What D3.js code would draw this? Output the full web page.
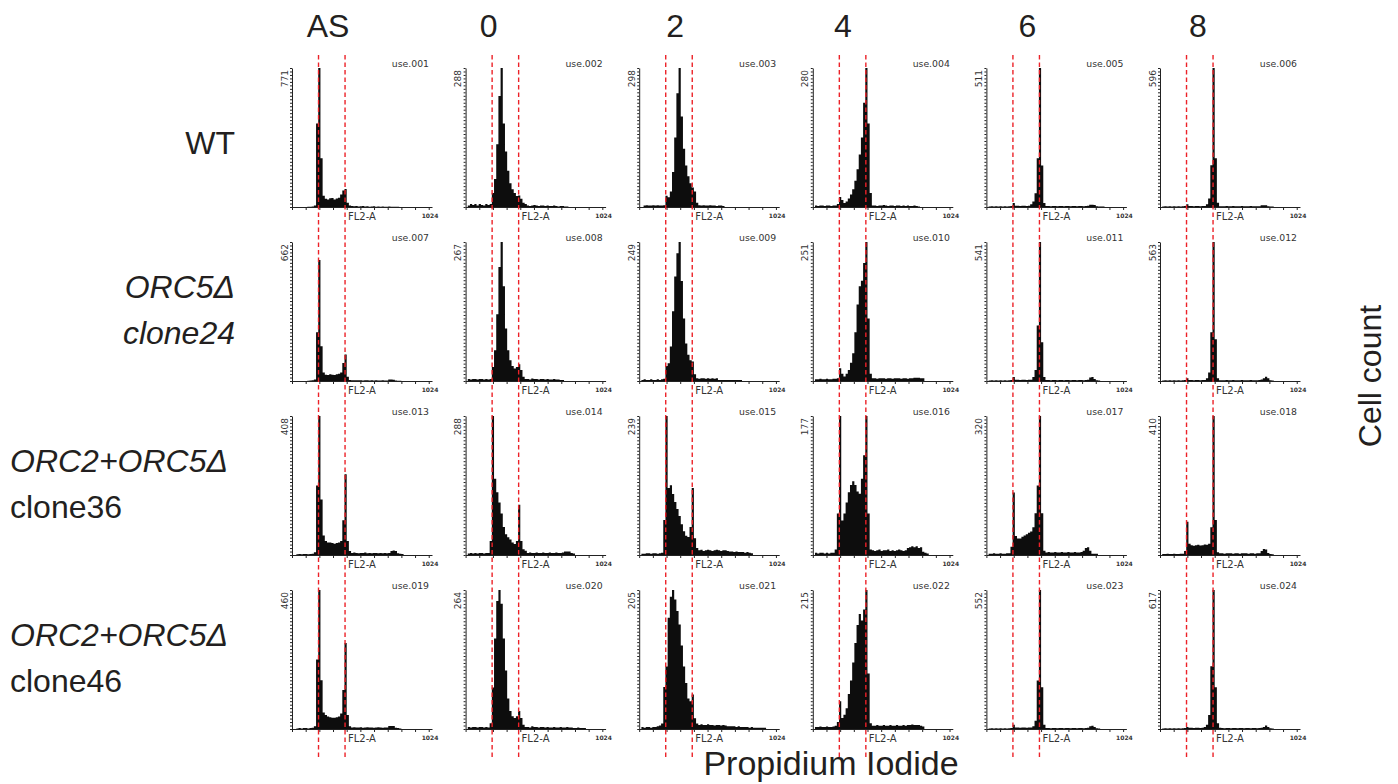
<!DOCTYPE html>
<html>
<head>
<meta charset="utf-8">
<script src="https://cdn.jsdelivr.net/npm/d3@7"></script>
<style>
  body { margin: 0; background: #fff; }
  text { font-family: "Liberation Sans", Arial, sans-serif; fill: #231f20; }
  .small { font-family: "DejaVu Sans", Verdana, sans-serif; fill: #333; }
</style>
</head>
<body>
<div id="chart"></div>
<script>
// ---- data ----
const timepoints = ["AS", "0", "2", "4", "6", "8"];
const strainLines = [
  [{ text: "WT", italic: false }],
  [{ text: "ORC5Δ", italic: true }, { text: "clone24", italic: true }],
  [{ text: "ORC2+ORC5Δ", italic: true }, { text: "clone36", italic: false }],
  [{ text: "ORC2+ORC5Δ", italic: true }, { text: "clone46", italic: false }]
];
const sampleIds = [
  ["use.001", "use.002", "use.003", "use.004", "use.005", "use.006"],
  ["use.007", "use.008", "use.009", "use.010", "use.011", "use.012"],
  ["use.013", "use.014", "use.015", "use.016", "use.017", "use.018"],
  ["use.019", "use.020", "use.021", "use.022", "use.023", "use.024"]
];
const channelMax = 1024;
const binWidth = 16;            // FL2-A channels per histogram bin
const gateChannels = [194, 388]; // 1C / 2C reference lines

const yMaxWT = [771, 288, 298, 280, 511, 596];
const yMaxClone24 = [662, 267, 249, 251, 541, 563];
const yMaxClone36 = [408, 288, 239, 177, 320, 410];
const yMaxClone46 = [460, 264, 205, 215, 552, 617];

// cell counts per bin (bin i = channels 16*i .. 16*i+15)
const countsWT = [
  [0,0,0,0,0,0,0,1,2,3,8,463,771,270,62,46,42,48,50,42,47,51,69,92,100,23,8,6,4,5,3,4,5,3,4,2,3,4,2,3,2,3,2,2,3,1,2,1,1],
  [0,3,6,4,6,3,6,4,3,6,4,6,29,58,130,230,288,173,115,75,49,37,29,23,24,17,9,6,3,2,3,4,3,2,3,3,2,3,2,2,3,2,1,2,2,1,1],
  [0,0,3,4,3,3,4,3,4,3,3,4,24,21,33,75,149,244,298,194,125,89,66,51,42,33,9,4,3,4,3,3,4,3,3,2,3,3,2],
  [0,3,2,3,3,2,3,3,2,3,3,6,20,14,8,11,17,25,36,53,76,106,140,210,280,168,28,3,3,2,3,3,4,3,2,3,3,2,3,3,2,3,2,3,2,2,3,2,1],
  [0,2,3,2,3,2,3,2,3,2,3,4,15,5,5,4,5,5,4,5,10,20,51,179,511,153,15,4,4,3,4,4,3,4,4,3,4,4,3,4,4,3,4,4,3,4,5,8,8,7,3,2,2,2],
  [0,2,3,2,3,2,3,2,3,2,3,4,12,4,4,3,4,4,3,4,4,12,36,179,596,209,18,3,3,3,4,3,3,4,3,3,3,4,3,3,3,4,3,3,3,3,7,7,7,3,2,2]
];
const countsClone24 = [
  [0,0,0,0,0,0,0,1,2,3,7,232,576,166,40,30,28,32,30,28,32,34,40,86,126,20,5,3,3,4,3,3,2,3,3,2,3,2,3,2,2,3,2,2,7,7,6,2,1,1],
  [0,4,3,4,4,3,4,4,3,4,3,4,27,59,128,219,267,182,101,59,40,29,24,27,32,21,8,4,4,3,5,4,4,3,4,4,3,4,3,3,4,3,3,2,2],
  [0,2,3,2,2,3,2,2,3,2,3,4,27,32,62,125,187,229,249,179,112,67,47,37,35,12,5,4,5,5,4,5,4,5,4,5,2,2,2,2,2,2,2,2,2,2,2],
  [0,3,3,4,3,3,4,3,3,4,4,5,23,13,8,13,20,33,50,88,138,171,181,213,251,113,13,5,5,4,5,5,5,4,5,5,4,5,5,5,4,5,5,4,5,5,6,6,6,5,5],
  [0,2,3,2,3,2,3,2,3,2,3,4,16,5,5,4,5,5,4,5,5,16,43,216,541,151,16,4,4,3,4,4,3,4,4,3,4,4,3,4,4,3,4,4,3,4,5,14,16,8,3,2],
  [0,2,3,2,3,2,3,2,3,2,3,4,11,4,4,3,4,4,3,4,4,11,34,197,563,169,11,3,3,3,4,3,3,4,3,3,3,4,3,3,3,4,3,3,3,4,6,11,17,11,3,2]
];
const countsClone36 = [
  [0,0,2,3,2,3,3,2,3,4,8,204,408,163,57,41,37,37,35,33,35,37,41,102,237,41,12,6,7,6,5,6,6,7,5,6,5,6,6,5,6,5,6,5,6,12,13,12,5,4,3],
  [0,3,4,3,4,3,4,4,3,4,4,29,288,158,130,109,86,58,43,37,32,26,23,29,104,29,12,9,4,5,4,4,5,4,4,5,4,4,5,4,4,5,4,4,5,7,7,7,4,3],
  [0,2,2,3,3,2,3,3,2,3,4,60,239,115,120,105,91,79,67,53,41,33,31,48,115,29,12,8,9,7,8,9,8,7,8,9,8,7,8,8,7,6,6,5,6,5,5,5,4,5,4,3],
  [0,3,2,3,3,2,3,2,3,3,7,53,177,44,53,67,80,89,94,89,81,78,97,127,177,53,7,6,5,6,7,5,6,6,7,5,6,5,6,7,6,5,6,9,10,11,10,11,9,10,4,3,2],
  [0,3,3,4,3,3,4,3,3,4,4,19,144,44,38,38,42,45,48,51,54,64,96,160,320,96,10,6,7,6,6,7,6,6,7,6,6,7,6,6,7,6,6,7,10,16,18,10,3,3,3],
  [0,3,3,4,3,3,4,3,3,4,4,12,98,33,29,27,29,30,28,29,31,30,33,82,410,103,8,5,5,4,5,5,5,4,5,5,4,5,5,5,4,5,5,4,5,5,12,18,16,6,3,2]
];
const countsClone46 = [
  [0,0,2,3,2,3,3,2,3,4,9,230,460,161,55,46,41,39,37,37,39,41,51,129,285,46,9,5,6,5,5,6,4,5,6,5,5,4,5,6,5,4,5,5,10,10,10,4,3,2],
  [0,4,3,4,4,3,4,4,3,4,3,11,79,172,243,264,238,172,111,58,34,24,21,24,34,21,8,4,4,3,5,4,4,3,4,4,3,4,3,3,4,3,3,4,3,3,4,3,3,2,2,3,2,2,2],
  [0,3,2,3,3,2,3,3,4,5,8,62,92,164,195,205,191,174,154,123,92,68,45,41,51,16,8,6,7,6,6,7,6,6,5,6,6,5,6,5,4,4,4,4,3,4,3,3,3,3,2,3,2,2,2,2,2,2],
  [0,3,3,4,3,3,4,3,3,4,5,11,43,17,22,32,54,75,103,133,161,178,168,185,215,86,9,5,5,6,5,5,6,5,5,6,5,5,6,5,5,6,5,6,6,7,6,6,6,5,4],
  [0,2,3,2,3,2,3,2,3,2,3,4,17,6,6,5,6,6,5,6,6,11,33,193,552,166,17,4,4,3,4,4,3,4,4,3,4,4,3,4,4,3,4,4,3,4,5,11,13,8,3,2],
  [0,2,3,2,3,2,3,2,3,2,3,4,9,5,5,4,5,5,4,5,9,19,62,278,617,185,25,6,4,3,4,4,3,4,4,3,4,4,3,4,4,3,4,4,3,4,5,9,15,9,3,2]
];

const rows = [
  { yMax: yMaxWT, counts: countsWT },
  { yMax: yMaxClone24, counts: countsClone24 },
  { yMax: yMaxClone36, counts: countsClone36 },
  { yMax: yMaxClone46, counts: countsClone46 }
];

// ---- layout ----
const width = 1398, height = 784;
const plotW = 140, plotH = 139;
const headerShift = [36, 23, 36, 30, 41, 38];
const labelAnchor = ["end", "end", "start", "start"];

const svg = d3.select("#chart").append("svg")
  .attr("width", width)
  .attr("height", height);

// panel origin (top of y axis) for each column / row
const colX = d3.scaleLinear().domain([0, 5]).range([292, 1160]);
const rowY = d3.scaleLinear().domain([0, 3]).range([68, 590]);
const x = d3.scaleLinear().domain([0, channelMax]).range([0, plotW]);

rows.forEach((row, r) => {
  row.counts.forEach((bins, c) => {
    const ymax = row.yMax[c];
    const y = d3.scaleLinear().domain([0, ymax]).range([plotH, 0]);
    const g = svg.append("g")
      .attr("transform", `translate(${colX(c)},${rowY(r)})`);

    // histogram as step area
    const pts = bins.map((v, i) => ({ ch: i * binWidth, v: v }));
    pts.push({ ch: bins.length * binWidth, v: 0 });
    const area = d3.area()
      .curve(d3.curveStepAfter)
      .x((d) => x(d.ch))
      .y0(plotH)
      .y1((d) => y(d.v));
    g.append("path").datum(pts).attr("d", area).attr("fill", "#0d0d0d");

    // axes
    g.append("g")
      .attr("transform", `translate(0,${plotH})`)
      .attr("color", "#222")
      .call(d3.axisBottom(x).tickValues(d3.range(0, 1001, 100))
        .tickSize(3).tickSizeOuter(0).tickFormat(""));
    g.append("g")
      .attr("color", "#222")
      .call(d3.axisLeft(y).tickValues(d3.range(41).map((i) => (ymax * i) / 40))
        .tickSize(2).tickSizeOuter(0).tickFormat(""));

    // small panel texts
    g.append("text").attr("class", "small")
      .attr("transform", `translate(-4.5,2) rotate(-90)`)
      .attr("text-anchor", "end")
      .attr("font-size", 9)
      .text(ymax);
    g.append("text").attr("class", "small")
      .attr("x", 137).attr("y", -1.5)
      .attr("text-anchor", "end")
      .attr("font-size", 9.3)
      .text(sampleIds[r][c]);
    g.append("text").attr("class", "small")
      .attr("x", 56).attr("y", plotH + 13)
      .attr("font-size", 10)
      .text("FL2-A");
    g.append("text").attr("class", "small")
      .attr("x", x(channelMax) - 2).attr("y", plotH + 11)
      .attr("text-anchor", "middle")
      .attr("font-size", 6)
      .attr("font-weight", "bold")
      .text(channelMax);
  });
});

// dashed reference lines through every column
timepoints.forEach((t, c) => {
  gateChannels.forEach((ch) => {
    svg.append("line")
      .attr("x1", colX(c) + x(ch)).attr("x2", colX(c) + x(ch))
      .attr("y1", 55).attr("y2", 758)
      .attr("stroke", "#ec2228")
      .attr("stroke-width", 1.4)
      .attr("stroke-dasharray", "4.5,3");
  });
});

// column headers
svg.selectAll(".header")
  .data(timepoints)
  .join("text")
  .attr("class", "header")
  .attr("x", (d, i) => colX(i) + headerShift[i])
  .attr("y", 37)
  .attr("text-anchor", "middle")
  .attr("font-size", 32)
  .text((d) => d);

// row labels
strainLines.forEach((lines, r) => {
  const y0 = rowY(r);
  const anchor = labelAnchor[r];
  lines.forEach((ln, k) => {
    const yy = lines.length === 1 ? y0 + 86 : y0 + 56 + k * 46;
    svg.append("text")
      .attr("x", anchor === "end" ? 235 : 10)
      .attr("y", yy)
      .attr("text-anchor", anchor)
      .attr("font-size", 32)
      .attr("font-style", ln.italic ? "italic" : "normal")
      .text(ln.text);
  });
});

// axis titles
svg.append("text")
  .attr("x", 831).attr("y", 775)
  .attr("text-anchor", "middle")
  .attr("font-size", 34)
  .text("Propidium Iodide");

svg.append("text")
  .attr("transform", "translate(1381,376) rotate(-90)")
  .attr("text-anchor", "middle")
  .attr("font-size", 32)
  .text("Cell count");
</script>
</body>
</html>
